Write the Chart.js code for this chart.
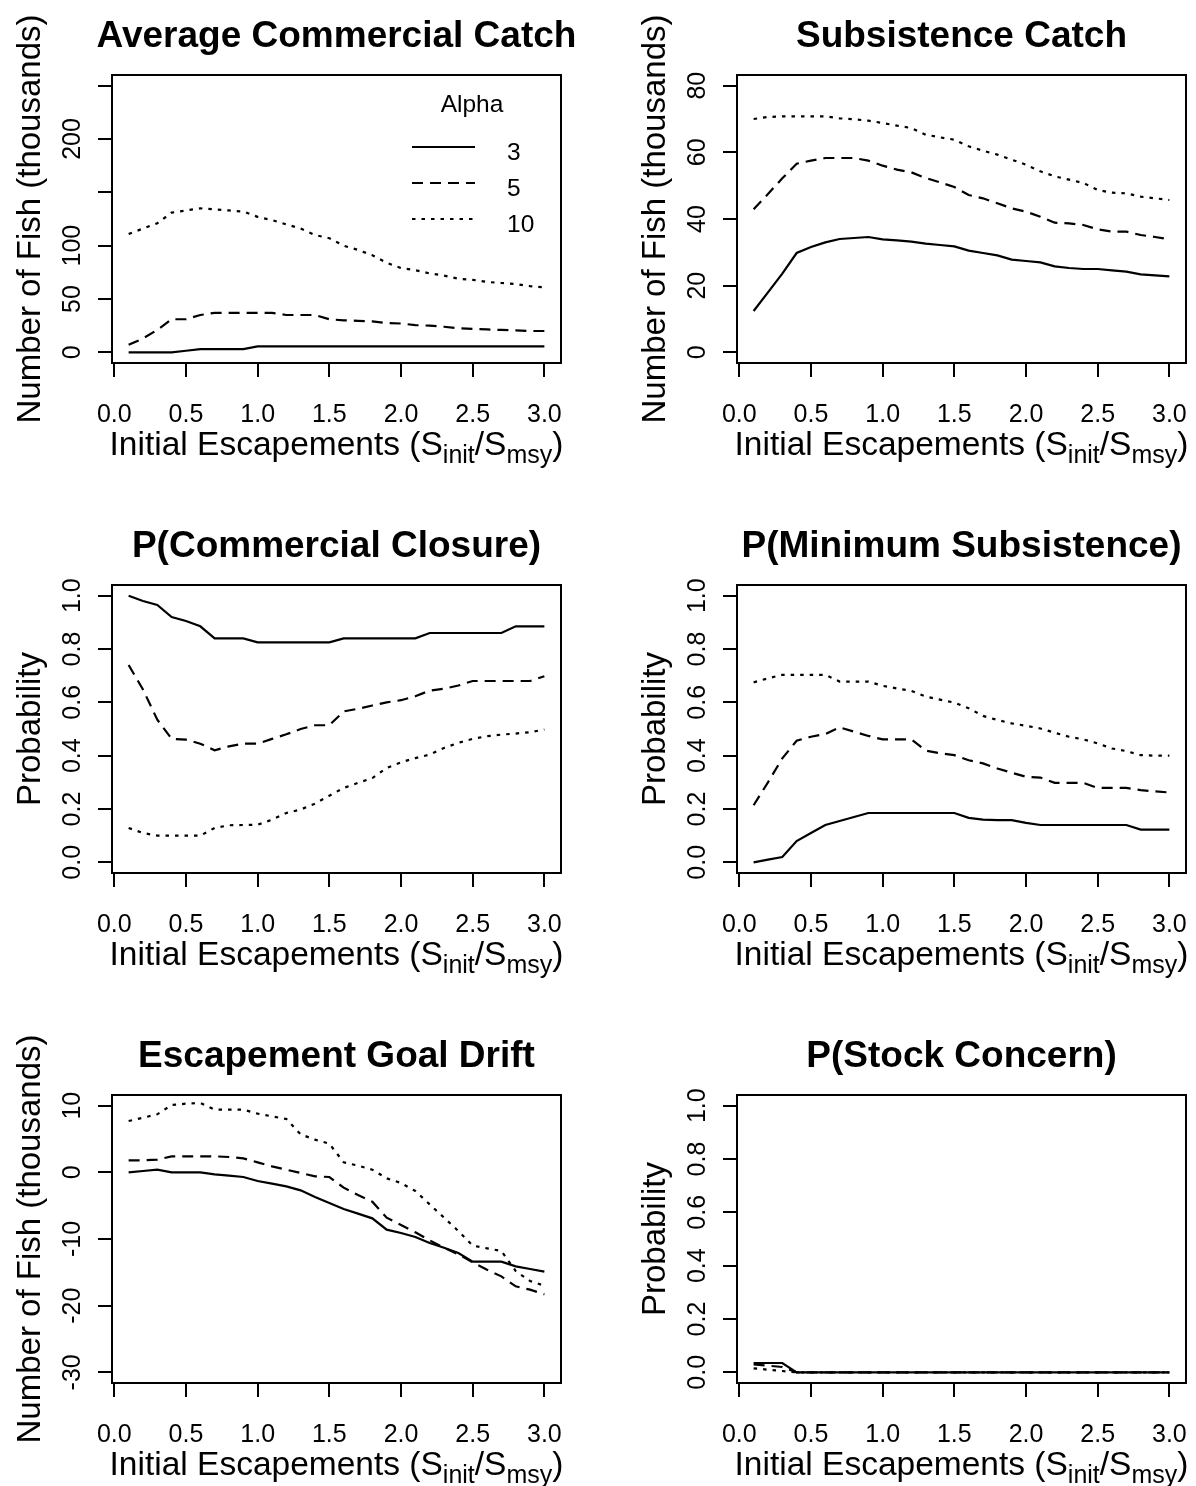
<!DOCTYPE html>
<html>
<head>
<meta charset="utf-8">
<title>Escapement simulations</title>
<script src="https://cdn.jsdelivr.net/npm/chart.js@4.4.1/dist/chart.umd.min.js"></script>
<style>
  html, body { margin: 0; padding: 0; background: #fff; }
  #page { position: relative; width: 1196px; height: 1486px; overflow: hidden; background: #fff; }
  #page canvas { position: absolute; }
</style>
</head>
<body>
<div id="page"></div>
<script>
function $(id) { return document.getElementById(id); }

// Initial escapement ratio (S_init / S_msy)
const xs = [0.1, 0.2, 0.3, 0.4, 0.5, 0.6, 0.7, 0.8, 0.9, 1.0,
            1.1, 1.2, 1.3, 1.4, 1.5, 1.6, 1.7, 1.8, 1.9, 2.0,
            2.1, 2.2, 2.3, 2.4, 2.5, 2.6, 2.7, 2.8, 2.9, 3.0];
const xTicks = [0, 0.5, 1.0, 1.5, 2.0, 2.5, 3.0];
const xTickLabels = ["0.0", "0.5", "1.0", "1.5", "2.0", "2.5", "3.0"];

const legendTitle = "Alpha";
const alphaLabels = ["3", "5", "10"];

// Average commercial catch (thousands)
const commercial3 = [0, 0, 0, 0, 1.5, 3, 3, 3, 3, 5.5,
                     5.5, 5.5, 5.5, 5.5, 5.5, 5.5, 5.5, 5.5, 5.5, 5.5,
                     5.5, 5.5, 5.5, 5.5, 5.5, 5.5, 5.5, 5.5, 5.5, 5.5];
const commercial5 = [7, 13, 21, 31, 31, 35, 37, 37, 37, 37,
                     37, 35, 35, 35, 31, 30, 29.5, 29, 27.5, 27,
                     25.5, 25, 24, 22.5, 22, 21.5, 21, 20.5, 20, 20];
const commercial10 = [111, 116, 121, 131, 133, 135, 134, 133, 132, 127,
                      124, 120, 116, 110, 107, 100, 96, 91, 84, 79,
                      77, 74, 72, 69, 68, 66, 65, 64, 62, 61];
const commercialTicks = [0, 50, 100, 150, 200, 250];
const commercialTickLabels = ["0", "50", "100", "", "200", ""];

// Subsistence catch (thousands)
const subsist3 = [12.4, 18, 23.6, 29.8, 31.6, 33, 34, 34.3, 34.6, 33.9,
                  33.6, 33.2, 32.6, 32.2, 31.8, 30.5, 29.8, 29.1, 27.8, 27.4,
                  27, 25.8, 25.3, 25, 25, 24.6, 24.2, 23.4, 23.1, 22.8];
const subsist5 = [42.9, 47.5, 52.2, 56.6, 57.5, 58.3, 58.3, 58.3, 57.5, 56,
                  54.8, 54, 52.3, 51, 49.6, 47.2, 46.2, 44.7, 43.2, 42.2,
                  40.7, 38.9, 38.7, 38.2, 36.9, 36.2, 36.2, 35.2, 34.6, 33.9];
const subsist10 = [70, 70.6, 70.8, 70.8, 70.8, 70.8, 70.2, 69.9, 69.5, 68.8,
                   68, 67.3, 65.3, 64.5, 63.8, 61.8, 60.5, 59.3, 57.8, 56.3,
                   54.3, 52.8, 51.8, 50.8, 48.7, 47.9, 47.7, 46.7, 46.2, 45.7];
const subsistTicks = [0, 20, 40, 60, 80];
const subsistTickLabels = ["0", "20", "40", "60", "80"];

// P(commercial closure)
const closure3 = [1.0, 0.98, 0.965, 0.92, 0.905, 0.885, 0.84, 0.84, 0.84, 0.825,
                  0.825, 0.825, 0.825, 0.825, 0.825, 0.84, 0.84, 0.84, 0.84, 0.84,
                  0.84, 0.86, 0.86, 0.86, 0.86, 0.86, 0.86, 0.885, 0.885, 0.885];
const closure5 = [0.74, 0.648, 0.535, 0.463, 0.46, 0.445, 0.42, 0.435, 0.445, 0.445,
                  0.463, 0.48, 0.5, 0.514, 0.514, 0.566, 0.576, 0.588, 0.6, 0.608,
                  0.623, 0.644, 0.651, 0.663, 0.68, 0.68, 0.68, 0.68, 0.68, 0.698];
const closure10 = [0.129, 0.11, 0.1, 0.1, 0.1, 0.1, 0.129, 0.139, 0.14, 0.141,
                   0.16, 0.185, 0.198, 0.22, 0.25, 0.279, 0.298, 0.316, 0.354, 0.375,
                   0.391, 0.404, 0.429, 0.448, 0.463, 0.473, 0.479, 0.483, 0.488, 0.498];

// P(minimum subsistence)
const minSub3 = [0, 0.01, 0.02, 0.08, 0.11, 0.14, 0.155, 0.17, 0.185, 0.185,
                 0.185, 0.185, 0.185, 0.185, 0.185, 0.167, 0.16, 0.158, 0.158, 0.148,
                 0.14, 0.14, 0.14, 0.14, 0.14, 0.14, 0.14, 0.123, 0.123, 0.123];
const minSub5 = [0.214, 0.3, 0.39, 0.456, 0.471, 0.481, 0.506, 0.49, 0.474, 0.461,
                 0.461, 0.461, 0.419, 0.409, 0.402, 0.383, 0.371, 0.352, 0.336, 0.321,
                 0.318, 0.298, 0.298, 0.298, 0.279, 0.279, 0.279, 0.271, 0.266, 0.262];
const minSub10 = [0.675, 0.69, 0.703, 0.703, 0.703, 0.703, 0.678, 0.678, 0.678, 0.662,
                  0.652, 0.643, 0.622, 0.61, 0.599, 0.578, 0.549, 0.534, 0.521, 0.512,
                  0.502, 0.486, 0.471, 0.461, 0.446, 0.427, 0.417, 0.402, 0.4, 0.4];

// Escapement goal drift (thousands)
const drift3 = [0, 0.2, 0.4, 0, 0, 0, -0.3, -0.5, -0.7, -1.3,
                -1.7, -2.1, -2.7, -3.7, -4.6, -5.5, -6.2, -6.9, -8.6, -9.1,
                -9.7, -10.6, -11.3, -12.1, -13.4, -13.4, -13.4, -14.1, -14.5, -14.9];
const drift5 = [1.8, 1.8, 1.9, 2.4, 2.4, 2.4, 2.4, 2.3, 2.1, 1.5,
                0.9, 0.4, -0.1, -0.6, -0.7, -2.3, -3.4, -4.4, -6.8, -7.9,
                -9.0, -10.2, -11.3, -12.3, -13.5, -14.6, -15.6, -17.1, -17.6, -18.3];
const drift10 = [7.7, 8.2, 8.7, 10.1, 10.3, 10.4, 9.4, 9.4, 9.4, 8.8,
                 8.4, 8.0, 5.7, 4.9, 4.3, 1.5, 1.0, 0.4, -0.9, -1.6,
                 -2.8, -4.8, -6.8, -8.8, -11.0, -11.4, -11.8, -14.8, -16.3, -17.0];
const driftTicks = [-30, -20, -10, 0, 10];
const driftTickLabels = ["-30", "-20", "-10", "0", "10"];

// P(stock concern)
const concern3 = [0.035, 0.035, 0.035, 0, 0, 0, 0, 0, 0, 0,
                  0, 0, 0, 0, 0, 0, 0, 0, 0, 0,
                  0, 0, 0, 0, 0, 0, 0, 0, 0, 0];
const concern5 = [0.03, 0.025, 0.02, 0, 0, 0, 0, 0, 0, 0,
                  0, 0, 0, 0, 0, 0, 0, 0, 0, 0,
                  0, 0, 0, 0, 0, 0, 0, 0, 0, 0];
const concern10 = [0.015, 0.01, 0.005, 0, 0, 0, 0, 0, 0, 0,
                   0, 0, 0, 0, 0, 0, 0, 0, 0, 0,
                   0, 0, 0, 0, 0, 0, 0, 0, 0, 0];

const probTicks = [0, 0.2, 0.4, 0.6, 0.8, 1.0];
const probTickLabels = ["0.0", "0.2", "0.4", "0.6", "0.8", "1.0"];

// ---- layout / style ----
const FONT = '"Liberation Sans", Arial, Helvetica, sans-serif';
const PAGE_H = 1486;
const COL_W = 598;
const ROW_H = 510;
const BOX_LEFT = [112, 737];
const BOX_RIGHT = [561, 1186];
const BOX_TOP = 75;
const BOX_BOTTOM = 363;
const TICK_LEN = 14;
const LINE_W = 2.2;
const DASHES = [[], [11, 7], [3.5, 6]];

// R's default axis range: data range widened by 4% on each side
function rRange(lo, hi) {
  const pad = (hi - lo) * 0.04;
  return [lo - pad, hi + pad];
}

function drawXTitle(ctx, cx, base) {
  const big = `33.5px ${FONT}`;
  const small = `25px ${FONT}`;
  const parts = [
    ["Initial Escapements (S", big, 0],
    ["init", small, 8],
    ["/S", big, 0],
    ["msy", small, 8],
    [")", big, 0]
  ];
  let total = 0;
  for (const p of parts) { ctx.font = p[1]; total += ctx.measureText(p[0]).width; }
  let x = cx - total / 2;
  ctx.textAlign = "left";
  for (const p of parts) {
    ctx.font = p[1];
    ctx.fillText(p[0], x, base + p[2]);
    x += ctx.measureText(p[0]).width;
  }
}

function drawLegend(chart) {
  const { ctx, chartArea: a } = chart;
  const x0 = a.right - 149;
  const x1 = a.right - 86;
  ctx.font = `24.5px ${FONT}`;
  ctx.textAlign = "center";
  ctx.fillText(legendTitle, a.right - 89, a.top + 37);
  chart.data.datasets.forEach((ds, i) => {
    const ly = a.top + 72 + i * 36;
    ctx.save();
    ctx.lineWidth = ds.borderWidth;
    ctx.setLineDash(ds.borderDash);
    ctx.beginPath();
    ctx.moveTo(x0, ly);
    ctx.lineTo(x1, ly);
    ctx.stroke();
    ctx.restore();
    ctx.textAlign = "left";
    ctx.fillText(ds.label, a.right - 54, ly + 13);
  });
}

// Box, tick labels, titles and legend in the style of base R graphics
const rPanel = {
  id: "rPanel",
  afterDraw(chart, args, opts) {
    const { ctx, chartArea: a, scales } = chart;
    const x = scales.x;
    const y = scales.y;
    ctx.save();
    ctx.strokeStyle = "#000";
    ctx.fillStyle = "#000";
    ctx.lineWidth = 2;
    ctx.strokeRect(a.left, a.top, a.right - a.left, a.bottom - a.top);

    ctx.font = `25px ${FONT}`;
    ctx.textAlign = "center";
    ctx.textBaseline = "alphabetic";
    x.ticks.forEach((t, i) => {
      ctx.fillText(xTickLabels[i], x.getPixelForValue(t.value), a.bottom + 59);
    });
    y.ticks.forEach((t, i) => {
      const label = opts.yLabels[i];
      if (!label) return;
      ctx.save();
      ctx.translate(a.left - 32, y.getPixelForValue(t.value));
      ctx.rotate(-Math.PI / 2);
      ctx.fillText(label, 0, 0);
      ctx.restore();
    });

    ctx.font = `bold 37px ${FONT}`;
    ctx.fillText(opts.title, (a.left + a.right) / 2, a.top - 28);

    ctx.font = `33px ${FONT}`;
    ctx.save();
    ctx.translate(a.left - 72, (a.top + a.bottom) / 2);
    ctx.rotate(-Math.PI / 2);
    ctx.fillText(opts.yTitle, 0, 0);
    ctx.restore();

    drawXTitle(ctx, (a.left + a.right) / 2, a.bottom + 92);

    if (opts.legend) drawLegend(chart);
    ctx.restore();
  }
};

function makePanel(p) {
  const left = p.col * COL_W;
  const top = p.row * ROW_H;
  const w = COL_W;
  const h = Math.min(ROW_H, PAGE_H - top);

  const canvas = document.createElement("canvas");
  canvas.width = w;
  canvas.height = h;
  canvas.style.left = left + "px";
  canvas.style.top = top + "px";
  $("page").appendChild(canvas);

  const boxL = BOX_LEFT[p.col] - left;
  const boxR = BOX_RIGHT[p.col] - left;
  const [xMin, xMax] = rRange(xs[0], xs[xs.length - 1]);
  const [yMin, yMax] = rRange(p.yTicks[0], p.yTicks[p.yTicks.length - 1]);

  const grid = { drawOnChartArea: false, drawTicks: true, tickLength: TICK_LEN, color: "#000", lineWidth: 2 };

  return new Chart(canvas, {
    type: "line",
    data: {
      datasets: p.series.map((ys, i) => ({
        label: alphaLabels[i],
        data: xs.map((xv, j) => ({ x: xv, y: ys[j] })),
        borderColor: "#000",
        borderWidth: LINE_W,
        borderDash: DASHES[i],
        pointRadius: 0,
        tension: 0,
        fill: false
      }))
    },
    options: {
      responsive: false,
      animation: false,
      devicePixelRatio: 1,
      events: [],
      layout: {
        autoPadding: false,
        padding: { left: boxL - TICK_LEN, right: w - boxR, top: BOX_TOP, bottom: h - BOX_BOTTOM - TICK_LEN }
      },
      plugins: {
        legend: { display: false },
        tooltip: { enabled: false },
        rPanel: { title: p.title, yTitle: p.yTitle, yLabels: p.yLabels, legend: !!p.legend }
      },
      scales: {
        x: {
          type: "linear",
          min: xMin,
          max: xMax,
          afterBuildTicks: (s) => { s.ticks = xTicks.map((v) => ({ value: v })); },
          afterFit: (s) => { s.height = TICK_LEN; },
          grid,
          border: { display: false },
          ticks: { display: false }
        },
        y: {
          type: "linear",
          min: yMin,
          max: yMax,
          afterBuildTicks: (s) => { s.ticks = p.yTicks.map((v) => ({ value: v })); },
          afterFit: (s) => { s.width = TICK_LEN; },
          grid,
          border: { display: false },
          ticks: { display: false }
        }
      }
    },
    plugins: [rPanel]
  });
}

const FISH = "Number of Fish (thousands)";
const PROB = "Probability";

makePanel({ row: 0, col: 0, title: "Average Commercial Catch", yTitle: FISH, legend: true,
  series: [commercial3, commercial5, commercial10], yTicks: commercialTicks, yLabels: commercialTickLabels });
makePanel({ row: 0, col: 1, title: "Subsistence Catch", yTitle: FISH,
  series: [subsist3, subsist5, subsist10], yTicks: subsistTicks, yLabels: subsistTickLabels });
makePanel({ row: 1, col: 0, title: "P(Commercial Closure)", yTitle: PROB,
  series: [closure3, closure5, closure10], yTicks: probTicks, yLabels: probTickLabels });
makePanel({ row: 1, col: 1, title: "P(Minimum Subsistence)", yTitle: PROB,
  series: [minSub3, minSub5, minSub10], yTicks: probTicks, yLabels: probTickLabels });
makePanel({ row: 2, col: 0, title: "Escapement Goal Drift", yTitle: FISH,
  series: [drift3, drift5, drift10], yTicks: driftTicks, yLabels: driftTickLabels });
makePanel({ row: 2, col: 1, title: "P(Stock Concern)", yTitle: PROB,
  series: [concern3, concern5, concern10], yTicks: probTicks, yLabels: probTickLabels });
</script>
</body>
</html>
